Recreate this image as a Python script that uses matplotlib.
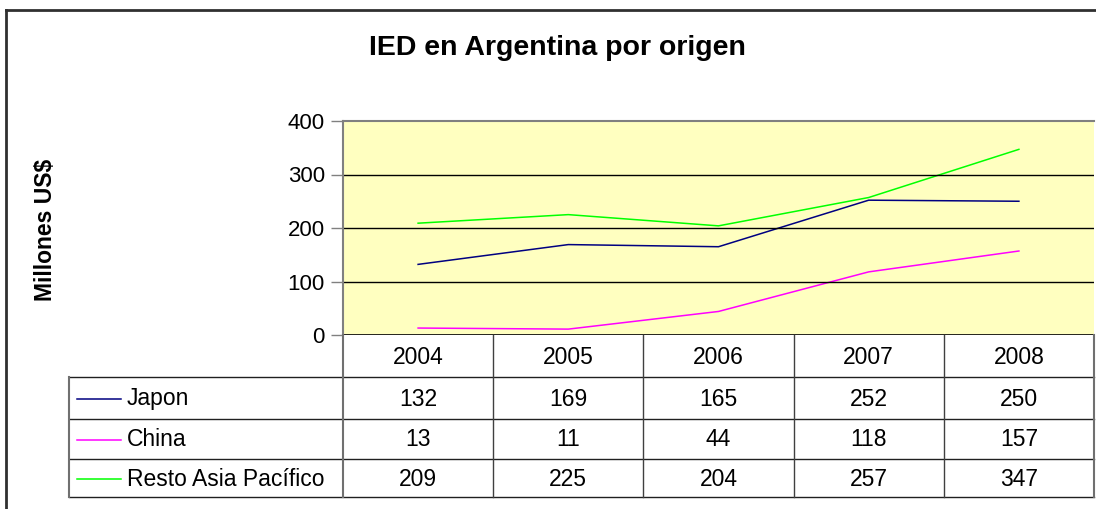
import matplotlib
matplotlib.use('Agg')
import matplotlib.pyplot as plt
from matplotlib.lines import Line2D

plt.rcParams['font.family'] = ['Liberation Sans', 'DejaVu Sans']

# data
years = ['2004', '2005', '2006', '2007', '2008']
series_names = ['Japon', 'China', 'Resto Asia Pacífico']
japon = [132, 169, 165, 252, 250]
china = [13, 11, 44, 118, 157]
resto = [209, 225, 204, 257, 347]
series_colors = ['#000080', '#FF00FF', '#00FF00']
y_ticks = [0, 100, 200, 300, 400]

W, H = 1096, 509
fig = plt.figure(figsize=(W / 100, H / 100), dpi=100)

# layout in pixels
pl, pr, pt, pb = 343, 1094, 121, 335
row_edges = [335, 377, 419, 459, 497]
tbl_left = 69
txt_size = 16.5

ax = fig.add_axes([pl / W, 1 - pb / H, (pr - pl) / W, (pb - pt) / H])
ax.set_facecolor('#FFFFC0')
xs = list(range(len(years)))
for vals, c in zip([japon, china, resto], series_colors):
    ax.plot(xs, vals, color=c, linewidth=1.1)
ax.set_xlim(-0.5, len(years) - 0.5)
ax.set_ylim(0, 400)
ax.set_yticks(y_ticks)
ax.set_yticklabels([str(t) for t in y_ticks], fontsize=16)
ax.set_xticks([])
for t in y_ticks[1:-1]:
    ax.axhline(t, color='black', linewidth=1)
ax.tick_params(axis='y', length=9, width=1, color='#808080', pad=4)
for s in ['right', 'bottom']:
    ax.spines[s].set_visible(False)
ax.spines['top'].set_color('#808080')
ax.spines['top'].set_linewidth(1.5)
ax.spines['left'].set_color('#808080')
ax.spines['left'].set_linewidth(1.5)
ax.axhline(0, color='black', linewidth=1.2)

# overlay in pixel coords for table, frame and titles
ov = fig.add_axes([0, 0, 1, 1], facecolor='none')
ov.set_xlim(0, W)
ov.set_ylim(H, 0)
ov.axis('off')

# outer frame (left and top visible)
ov.plot([6, 6], [10, H], color='#303030', linewidth=2)
ov.plot([6, W], [10, 10], color='#303030', linewidth=2)

ov.text(557, 48, 'IED en Argentina por origen', fontsize=20.5, fontweight='bold',
        ha='center', va='center')
ov.text(46, 230, 'Millones US$', fontsize=16.5, fontweight='bold', rotation=90,
        ha='center', va='center')

col_w = (pr - pl) / len(years)
col_edges = [pl + i * col_w for i in range(len(years) + 1)]
gray = '#707070'

# horizontal lines
for y in row_edges[1:]:
    ov.plot([tbl_left, pr], [y, y], color='#202020', linewidth=1)
# vertical lines
ov.plot([tbl_left, tbl_left], [row_edges[1], row_edges[-1]], color=gray, linewidth=1.5)
ov.plot([pl, pl], [row_edges[0], row_edges[-1]], color=gray, linewidth=1.5)
for x in col_edges[1:-1]:
    ov.plot([x, x], [row_edges[0], row_edges[-1]], color='#404040', linewidth=1)
ov.plot([pr, pr], [row_edges[0], row_edges[-1]], color=gray, linewidth=1.5)

# header row
for i, yr in enumerate(years):
    ov.text(pl + (i + 0.5) * col_w, (row_edges[0] + row_edges[1]) / 2 + 1, yr,
            fontsize=txt_size, ha='center', va='center')

# data rows
for r, (name, vals, c) in enumerate(zip(series_names, [japon, china, resto], series_colors)):
    yc = (row_edges[r + 1] + row_edges[r + 2]) / 2 + 1
    ov.add_line(Line2D([77, 121], [yc, yc], color=c, linewidth=1.1))
    ov.text(127, yc, name, fontsize=txt_size, ha='left', va='center')
    for i, v in enumerate(vals):
        ov.text(pl + (i + 0.5) * col_w, yc, str(v), fontsize=txt_size, ha='center', va='center')

fig.savefig('out.png', dpi=100)
